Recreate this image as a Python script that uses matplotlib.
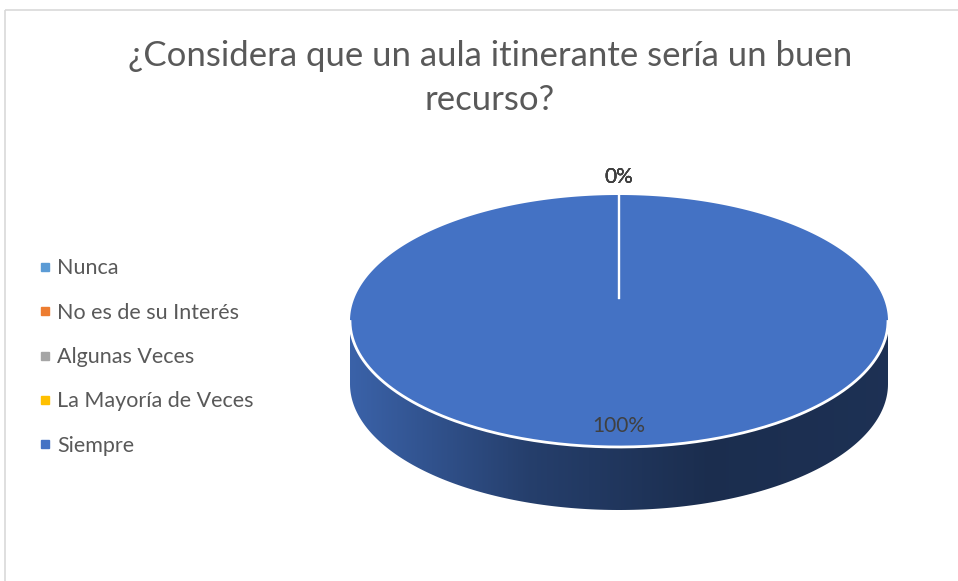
import numpy as np
import matplotlib
matplotlib.use("Agg")
import matplotlib.pyplot as plt
from matplotlib.patches import Polygon, Rectangle
from matplotlib.lines import Line2D
from matplotlib.colors import to_rgb

# data
categories = ["Nunca", "No es de su Interés", "Algunas Veces",
              "La Mayoría de Veces", "Siempre"]
values = [0, 0, 0, 0, 100]
colors = ["#5B9BD5", "#ED7D31", "#A5A5A5", "#FFC000", "#4472C4"]
title = "¿Considera que un aula itinerante sería un buen\nrecurso?"

plt.rcParams['font.family'] = ['Lato', 'DejaVu Sans']
txt_color = "#595959"

fig = plt.figure(figsize=(9.58, 5.81), dpi=100)
ax = fig.add_axes([0, 0, 1, 1])
ax.set_xlim(0, 958)
ax.set_ylim(581, 0)
ax.axis("off")

# chart border
ax.add_patch(Rectangle((5.5, 9.5), 960, 600, fill=False, ec="#D9D9D9", lw=1.2))

ax.text(490, 40, title, ha="center", va="top", fontsize=25, color=txt_color,
        linespacing=1.45)

# 3D pie geometry (pixels)
cx, cy = 619, 321
rx, ry = 269, 126
depth = 63
apex = (cx, cy - 23)

total = sum(values)
fracs = [v / total for v in values]
start = 0.0
grad = np.linspace(0, 1, 256).reshape(1, -1)

for frac, col in zip(fracs, colors):
    a0 = start
    a1 = start + frac * 2 * np.pi
    start = a1
    if frac == 0:
        continue
    # angle measured clockwise from 12 o'clock
    t = np.linspace(a0, a1, 400)
    xs = cx + rx * np.sin(t)
    ys = cy - ry * np.cos(t)
    # side band: only the front half
    front = np.cos(t) <= 0
    if front.any():
        fx, fy = xs[front], ys[front]
        order = np.argsort(fx)
        fx, fy = fx[order], fy[order]
        side = np.column_stack([np.r_[fx, fx[::-1]], np.r_[fy, fy[::-1] + depth]])
        side_poly = Polygon(side, closed=True, fc="none", ec="none")
        ax.add_patch(side_poly)
        base = np.array(to_rgb(col))
        cmap = matplotlib.colors.LinearSegmentedColormap.from_list(
            "side", [base * 0.86, base * 0.55, base * 0.4, base * 0.43])
        im = ax.imshow(grad, cmap=cmap, extent=(fx.min(), fx.max(), fy.max() + depth, fy.min()),
                       aspect="auto", zorder=1)
        im.set_clip_path(side_poly)
        ax.plot(fx, fy, color="white", lw=2, zorder=3)
    # top face
    if frac >= 1:
        top = np.column_stack([xs, ys])
    else:
        top = np.vstack([[apex], np.column_stack([xs, ys])])
    ax.add_patch(Polygon(top, closed=True, fc=col, ec="none", zorder=2))

# slice boundary lines
start = 0.0
for frac in fracs:
    ax.plot([apex[0], cx + rx * np.sin(start)], [apex[1], cy - ry * np.cos(start)],
            color="white", lw=1.5, zorder=3)
    start += frac * 2 * np.pi

# data labels
start = 0.0
for frac in fracs:
    mid = start + frac * np.pi
    start += frac * 2 * np.pi
    r = 0.83 if frac > 0.5 else 1.14
    ax.text(cx + r * rx * np.sin(mid), cy - r * ry * np.cos(mid), f"{frac * 100:.0f}%",
            ha="center", va="center", fontsize=15, color="#404040", zorder=4)

handles = [Line2D([], [], ls="none", marker="s", ms=6, mfc=c, mec=c) for c in colors]
ax.legend(handles, categories, loc="upper left", bbox_to_anchor=(0.033, 0.570),
          frameon=False, fontsize=15.5, labelcolor=txt_color, handlelength=0.4,
          handletextpad=0.4, labelspacing=1.13, borderaxespad=0)

fig.savefig("out.png", dpi=100)
